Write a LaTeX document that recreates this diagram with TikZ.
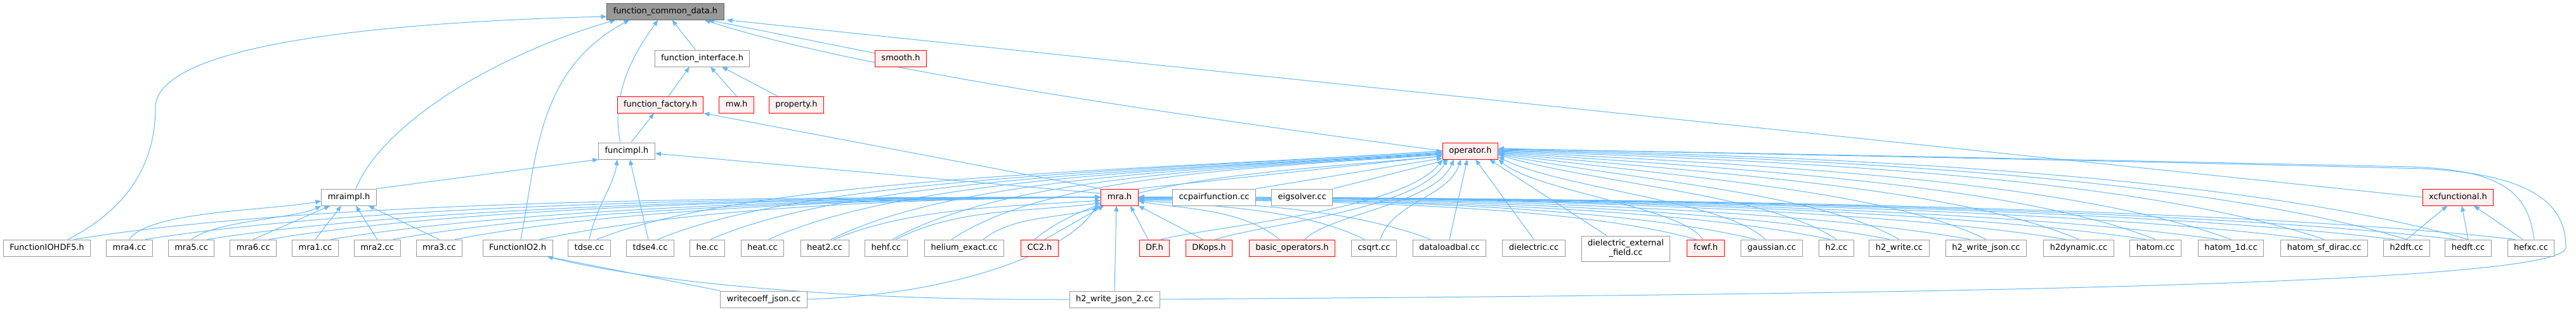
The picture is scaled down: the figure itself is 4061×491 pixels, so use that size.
\documentclass[tikz,border=0pt]{standalone}
\usepackage{fontspec}
\setmainfont{DejaVu Sans}
\usetikzlibrary{arrows.meta,positioning}

\definecolor{edgeblue}{HTML}{63B8FF}
\definecolor{grey60}{HTML}{999999}
\definecolor{grey40}{HTML}{666666}
\definecolor{cutfill}{HTML}{FFF0F0}

\pgfdeclarelayer{bg}
\pgfsetlayers{bg,main}

\tikzset{
  file/.style={draw=grey60, fill=white, line width=1pt, inner xsep=10pt, inner ysep=0pt,
    minimum height=26pt, text height=9.5pt, text depth=3pt, font=\fontsize{13}{15}\selectfont},
  root/.style={file, draw=grey40, fill=grey60},
  cut/.style={file, draw=red, fill=cutfill},
  dep/.style={draw=edgeblue, line width=1pt, -{Triangle[length=9pt,width=7pt]}}
}

\begin{document}
\begin{tikzpicture}[x=1pt,y=-1pt]
  \useasboundingbox (0,0) rectangle (4061,491);

  % 1. 根节点
  \node[root] (fcd) at (1049,18) {function\_common\_data.h};

  % 2. 中间几层头文件
  \node[file] (fi) at (1107,92) {function\_interface.h};
  \node[cut] (smooth) at (1420,92) {smooth.h};
  \node[cut] (ff) at (1041,165) {function\_factory.h};
  \node[cut, right=24pt of ff] (mw) {mw.h};
  \node[cut, right=23pt of mw] (prop) {property.h};
  \node[file] (funcimpl) at (988,238) {funcimpl.h};
  \node[cut] (operator) at (2318,238) {operator.h};
  \node[file] (mraimpl) at (550,311) {mraimpl.h};
  \node[cut] (mra) at (1765,311) {mra.h};
  \node[file] (ccpair) at (1914,311) {ccpairfunction.cc};
  \node[file, right=24pt of ccpair] (eigsolver) {eigsolver.cc};
  \node[cut] (xcf) at (3875,311) {xcfunctional.h};

  % 3. 底部一排
  \node[file] (fh5) at (74,391) {FunctionIOHDF5.h};
  \node[file, right=24pt of fh5] (mra4) {mra4.cc};
  \node[file, right=24pt of mra4] (mra5) {mra5.cc};
  \node[file, right=24pt of mra5] (mra6) {mra6.cc};
  \node[file, right=24pt of mra6] (mra1) {mra1.cc};
  \node[file, right=24pt of mra1] (mra2) {mra2.cc};
  \node[file, right=24pt of mra2] (mra3) {mra3.cc};
  \node[file] (fio2) at (816,391) {FunctionIO2.h};
  \node[file] (tdse) at (929,391) {tdse.cc};
  \node[file] (tdse4) at (1025,391) {tdse4.cc};
  \node[file] (he) at (1115,391) {he.cc};
  \node[file] (heat) at (1202,391) {heat.cc};
  \node[file] (heat2) at (1300,391) {heat2.cc};
  \node[file] (hehf) at (1397,391) {hehf.cc};
  \node[file] (helex) at (1520,391) {helium\_exact.cc};
  \node[cut] (cc2) at (1639,391) {CC2.h};
  \node[cut] (df) at (1820,391) {DF.h};
  \node[cut] (dkops) at (1906,391) {DKops.h};
  \node[cut] (basic) at (2037,391) {basic\_operators.h};
  \node[file] (csqrt) at (2166,391) {csqrt.cc};
  \node[file] (dlb) at (2285,391) {dataloadbal.cc};
  \node[file] (diel) at (2418,391) {dielectric.cc};
  \node[file, minimum height=40pt, text height=, text depth=, align=center] (dief) at (2563,392) {dielectric\_external\\\_field.cc};
  \node[cut] (fcwf) at (2689,391) {fcwf.h};
  \node[file] (gauss) at (2793,391) {gaussian.cc};
  \node[file] (h2) at (2895,391) {h2.cc};
  \node[file] (h2w) at (2994,391) {h2\_write.cc};
  \node[file] (h2wj) at (3131,391) {h2\_write\_json.cc};
  \node[file] (h2dyn) at (3277,391) {h2dynamic.cc};
  \node[file] (hatom) at (3398,391) {hatom.cc};
  \node[file] (hatom1d) at (3517,391) {hatom\_1d.cc};
  \node[file] (hsfd) at (3664,391) {hatom\_sf\_dirac.cc};
  \node[file] (h2dft) at (3794,391) {h2dft.cc};
  \node[file] (hedft) at (3891,391) {hedft.cc};
  \node[file] (hefxc) at (3990,391) {hefxc.cc};

  % 4. 最下面两个
  \node[file] (wcj) at (1204,472) {writecoeff\_json.cc};
  \node[file] (h2wj2) at (1757,472) {h2\_write\_json\_2.cc};

  % 5. 连线：箭头指向被包含的头文件（画在节点下面）
  \begin{pgfonlayer}{bg}
  % function_common_data.h
  \draw[dep] ([xshift=33pt]fh5.north) .. controls (200,330) and (245,260) .. (245,170)
    .. controls (245,70) and (600,35) .. ([yshift=-8pt]fcd.west);
  \draw[dep] ([xshift=11pt]mraimpl.north) .. controls (600,200) and (770,90) .. ([xshift=14pt]fcd.south west);
  \draw[dep] ([xshift=5pt]fio2.north) .. controls (846,250) and (846,110) .. ([xshift=36pt]fcd.south west);
  \draw[dep] ([xshift=-10pt]funcimpl.north) .. controls (960,140) and (1010,70) .. ([xshift=81pt]fcd.south west);
  \draw[dep] (fi) -- (fcd);
  \draw[dep] (smooth) -- (fcd);
  \draw[dep] (operator.west) .. controls (1850,180) and (1350,110) .. ([xshift=-31pt]fcd.south east);
  \draw[dep] (xcf.west) -- ([xshift=4pt]fcd.south east);

  % function_interface.h, function_factory.h
  \draw[dep] ([xshift=13pt]ff.north) -- ([xshift=-20pt]fi.south);
  \draw[dep] (mw.north) -- ([xshift=13pt]fi.south);
  \draw[dep] ([xshift=-30pt]prop.north) -- ([xshift=31pt]fi.south);
  \draw[dep] ([xshift=7pt]funcimpl.north) -- ([xshift=-10pt]ff.south);
  \draw[dep] (mra.north west) -- (ff.south east);

  % funcimpl.h
  \draw[dep] (mraimpl.north east) -- (funcimpl.south west);
  \draw[dep] (tdse.north) .. controls +(10,-50) and +(-5,40) .. ([xshift=-15pt]funcimpl.south);
  \draw[dep] ([xshift=-3pt]tdse4.north) -- ([xshift=5pt]funcimpl.south);
  \draw[dep] ([yshift=6pt]mra.west) -- ([yshift=-4pt]funcimpl.east);

  % mraimpl.h
  \draw[dep] (mra4.north) .. controls +(30,-45) and +(-80,15) .. ([yshift=-6pt]mraimpl.west);
  \draw[dep] (mra5.north) .. controls +(40,-30) and +(-40,20) .. (mraimpl.south west);
  \draw[dep] (mra6.north) -- ([xshift=14pt]mraimpl.south west);
  \draw[dep] (mra1.north) -- ([xshift=-12pt]mraimpl.south);
  \draw[dep] (mra2.north) -- ([xshift=11pt]mraimpl.south);
  \draw[dep] (mra3.north) -- ([xshift=-13pt]mraimpl.south east);

  % mra.h，左边
  \draw[dep] ([xshift=43pt]fh5.north) .. controls +(400,-65) and +(-500,0) .. (mra.west);
  \draw[dep] ([xshift=25pt]mra4.north) .. controls +(380,-60) and +(-450,0) .. (mra.west);
  \draw[dep] ([xshift=25pt]mra5.north) .. controls +(350,-55) and +(-420,0) .. (mra.west);
  \draw[dep] ([xshift=25pt]mra6.north) .. controls +(330,-55) and +(-400,1) .. (mra.west);
  \draw[dep] ([xshift=25pt]mra1.north) .. controls +(300,-50) and +(-380,1) .. (mra.west);
  \draw[dep] ([xshift=25pt]mra2.north) .. controls +(280,-50) and +(-360,2) .. (mra.west);
  \draw[dep] ([xshift=25pt]mra3.north) .. controls +(260,-50) and +(-340,2) .. (mra.west);
  \draw[dep] ([xshift=35pt]fio2.north) .. controls +(240,-50) and +(-320,3) .. (mra.west);
  \draw[dep] ([xshift=15pt]heat2.north) .. controls +(120,-50) and +(-150,10) .. ([yshift=-5pt]mra.west);
  \draw[dep] ([xshift=15pt]hehf.north) .. controls +(100,-50) and +(-120,15) .. ([yshift=-9pt]mra.west);
  \draw[dep] ([xshift=30pt]helex.north) .. controls +(50,-40) and +(-50,20) .. (mra.south west);
  \draw[dep] ([xshift=8pt]cc2.north) -- ([xshift=5pt]mra.south west);
  \draw[dep] (wcj.east) .. controls (1500,465) and (1680,400) .. ([xshift=-6pt]mra.south west);
  \draw[dep] (h2wj2.north) -- ([xshift=-5pt]mra.south);

  % mra.h，右边
  \draw[dep] ([xshift=-10pt]df.north) -- ([xshift=17pt]mra.south);
  \draw[dep] ([xshift=-10pt]dkops.north) -- (mra.south east);
  \draw[dep] ([xshift=-20pt]basic.north) .. controls +(-60,-50) and +(60,12) .. ([yshift=-6pt]mra.east);
  \draw[dep] ([xshift=-15pt]csqrt.north) .. controls +(-100,-50) and +(100,8) .. ([yshift=-5pt]mra.east);
  \draw[dep] ([xshift=-30pt]dlb.north) .. controls +(-130,-50) and +(150,5) .. ([yshift=-4pt]mra.east);
  \draw[dep] ([xshift=-15pt]fcwf.north) .. controls +(-200,-55) and +(300,3) .. ([yshift=-3pt]mra.east);
  \draw[dep] ([xshift=-25pt]gauss.north) .. controls +(-230,-55) and +(330,2) .. ([yshift=-2pt]mra.east);
  \draw[dep] ([xshift=-10pt]h2.north) .. controls +(-260,-55) and +(360,2) .. ([yshift=-2pt]mra.east);
  \draw[dep] ([xshift=-15pt]h2w.north) .. controls +(-280,-55) and +(390,1) .. ([yshift=-1pt]mra.east);
  \draw[dep] ([xshift=-25pt]h2wj.north) .. controls +(-310,-55) and +(420,1) .. (mra.east);
  \draw[dep] ([xshift=-20pt]h2dyn.north) .. controls +(-340,-55) and +(460,0) .. (mra.east);
  \draw[dep] ([xshift=-15pt]hatom.north) .. controls +(-370,-55) and +(500,0) .. (mra.east);
  \draw[dep] ([xshift=-20pt]hatom1d.north) .. controls +(-390,-55) and +(530,0) .. (mra.east);
  \draw[dep] ([xshift=-20pt]hsfd.north) .. controls +(-420,-55) and +(570,0) .. (mra.east);
  \draw[dep] ([xshift=-20pt]h2dft.north) .. controls +(-450,-55) and +(600,0) .. (mra.east);
  \draw[dep] ([xshift=-20pt]hedft.north) .. controls +(-470,-55) and +(620,0) .. (mra.east);
  \draw[dep] ([xshift=-25pt]hefxc.north) .. controls +(-490,-55) and +(650,0) .. (mra.east);

  % operator.h，左边
  \draw[dep] (mra.north east) -- ([yshift=-8pt]operator.west);
  \draw[dep] ([xshift=12pt]tdse.north) .. controls +(250,-100) and +(-450,30) .. (operator.west);
  \draw[dep] ([xshift=12pt]tdse4.north) .. controls +(240,-100) and +(-430,30) .. (operator.west);
  \draw[dep] ([xshift=5pt]he.north) .. controls +(230,-100) and +(-410,28) .. ([yshift=-2pt]operator.west);
  \draw[dep] ([xshift=10pt]heat.north) .. controls +(220,-100) and +(-390,26) .. ([yshift=-3pt]operator.west);
  \draw[dep] ([xshift=10pt]heat2.north) .. controls +(200,-100) and +(-360,24) .. ([yshift=-4pt]operator.west);
  \draw[dep] ([xshift=10pt]hehf.north) .. controls +(180,-100) and +(-330,22) .. ([yshift=-5pt]operator.west);
  \draw[dep] ([xshift=-20pt]helex.north) .. controls +(150,-100) and +(-300,20) .. ([yshift=-6pt]operator.west);
  \draw[dep] ([xshift=-8pt]cc2.north) .. controls +(120,-100) and +(-250,25) .. ([yshift=-8pt]operator.west);
  \draw[dep] (ccpair.north east) -- ([yshift=2pt]operator.south west);
  \draw[dep] (eigsolver.north east) -- ([xshift=10pt]operator.south west);
  \draw[dep] ([xshift=10pt]df.north) .. controls +(80,-20) and +(-60,80) .. (operator.south west);
  \draw[dep] ([xshift=10pt]dkops.north) .. controls +(80,-25) and +(-50,80) .. ([xshift=8pt]operator.south west);
  \draw[dep] ([xshift=20pt]basic.north) .. controls +(40,-40) and +(-30,70) .. ([xshift=18pt]operator.south west);
  \draw[dep] ([xshift=10pt]csqrt.north) .. controls +(20,-60) and +(-20,60) .. ([xshift=-15pt]operator.south);
  \draw[dep] (dlb.north) -- ([xshift=-5pt]operator.south);
  \draw[dep] (diel.north) -- ([xshift=8pt]operator.south);
  \draw[dep] ([xshift=-30pt]dief.north) -- ([xshift=-14pt]operator.south east);

  % operator.h，右边
  \draw[dep] ([xshift=-5pt]fcwf.north) .. controls +(-30,-50) and +(60,50) .. (operator.south east);
  \draw[dep] ([xshift=-10pt]gauss.north) .. controls +(-60,-60) and +(100,50) .. ([yshift=4pt]operator.south east);
  \draw[dep] (h2.north) .. controls +(-100,-70) and +(150,45) .. ([yshift=-6pt]operator.east);
  \draw[dep] (h2w.north) .. controls +(-130,-75) and +(200,40) .. ([yshift=-5pt]operator.east);
  \draw[dep] (h2wj.north) .. controls +(-160,-80) and +(250,35) .. ([yshift=-4pt]operator.east);
  \draw[dep] (h2dyn.north) .. controls +(-200,-85) and +(300,30) .. ([yshift=-3pt]operator.east);
  \draw[dep] (hatom.north) .. controls +(-230,-90) and +(350,25) .. ([yshift=-2pt]operator.east);
  \draw[dep] (hatom1d.north) .. controls +(-260,-95) and +(400,20) .. ([yshift=-1pt]operator.east);
  \draw[dep] (hsfd.north) .. controls +(-300,-100) and +(450,15) .. (operator.east);
  \draw[dep] (h2dft.north) .. controls +(-330,-100) and +(500,12) .. ([yshift=1pt]operator.east);
  \draw[dep] (hedft.north) .. controls +(-350,-100) and +(550,10) .. ([yshift=2pt]operator.east);
  \draw[dep] ([xshift=5pt]hefxc.north) .. controls (3985,300) and (3940,268) .. (3800,263)
    .. controls (3200,250) and (2700,240) .. ([yshift=3pt]operator.east);
  \draw[dep] (h2wj2.east) .. controls (2800,465) and (4045,455) .. (4045,390)
    .. controls (4045,320) and (3990,275) .. (3820,266)
    .. controls (3200,250) and (2700,242) .. ([yshift=4pt]operator.east);

  % xcfunctional.h, FunctionIO2.h
  \draw[dep] (h2dft.north) -- ([xshift=-17pt]xcf.south);
  \draw[dep] (hedft.north) -- ([xshift=6pt]xcf.south);
  \draw[dep] ([xshift=-13pt]hefxc.north) -- ([xshift=25pt]xcf.south);
  \draw[dep] (wcj.north west) -- ([xshift=-9pt]fio2.south east);
  \draw[dep] (h2wj2.west) .. controls (1300,475) and (1000,440) .. ([xshift=-9pt]fio2.south east);
  \end{pgfonlayer}
\end{tikzpicture}
\end{document}
